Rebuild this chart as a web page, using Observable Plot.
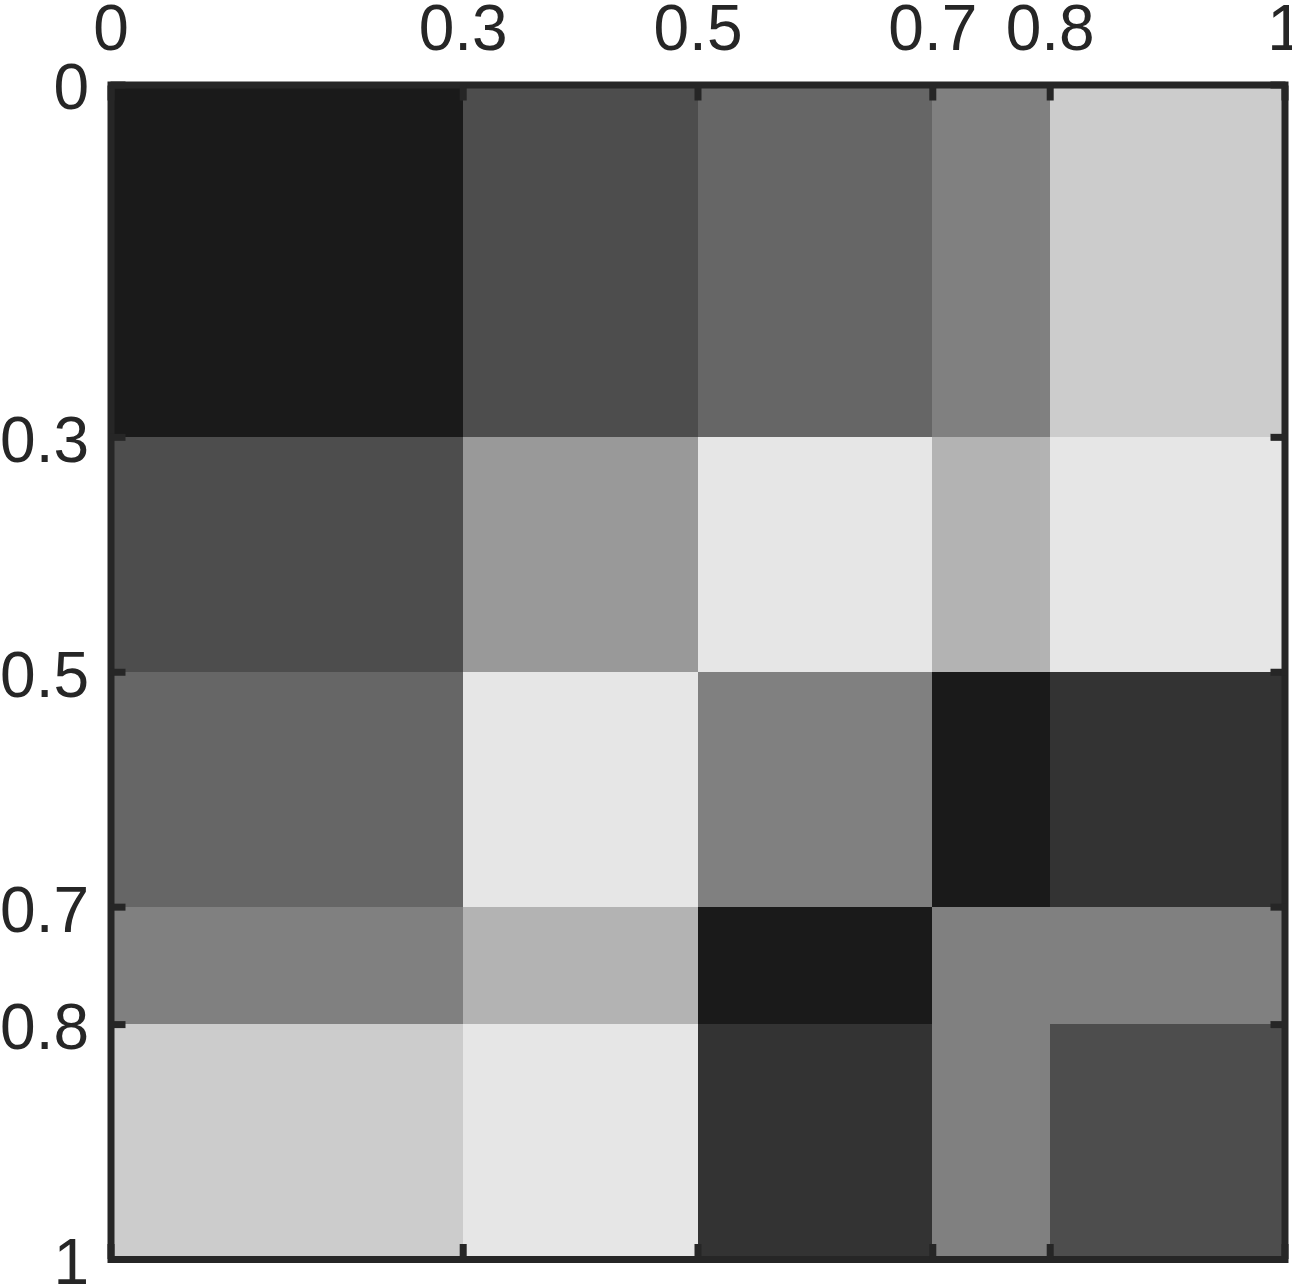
<!DOCTYPE html>
<html>
<head>
<meta charset="utf-8">
<script src="https://cdn.jsdelivr.net/npm/d3@7"></script>
<script src="https://cdn.jsdelivr.net/npm/@observablehq/plot@0.6"></script>
<style>
  html, body { margin: 0; padding: 0; background: #fff; }
  #chart svg { display: block; }
</style>
</head>
<body>
<div id="chart"></div>
<script>
// Cell edges along x and y (same partition on both axes)
const xEdges = [0, 0.3, 0.5, 0.7, 0.8, 1];
const yEdges = [0, 0.3, 0.5, 0.7, 0.8, 1];
// Tick positions
const xTicks = [0, 0.3, 0.5, 0.7, 0.8, 1];
const yTicks = [0, 0.3, 0.5, 0.7, 0.8, 1];
// Cell values, row by row (row 0 = top), mapped to a gray colormap
const row0 = [0.1, 0.3, 0.4, 0.5, 0.8];
const row1 = [0.3, 0.6, 0.9, 0.7, 0.9];
const row2 = [0.4, 0.9, 0.5, 0.1, 0.2];
const row3 = [0.5, 0.7, 0.1, 0.5, 0.5];
const row4 = [0.8, 0.9, 0.2, 0.5, 0.3];
const rows = [row0, row1, row2, row3, row4];

const cells = [];
rows.forEach((row, i) => row.forEach((v, j) => cells.push({
  x1: xEdges[j], x2: xEdges[j + 1], y1: yEdges[i], y2: yEdges[i + 1], value: v
})));

const ink = "#262626";
const fmt = d => String(d);

const chart = Plot.plot({
  width: 1292,
  height: 1286,
  marginLeft: 110.5,
  marginRight: 7.5,
  marginTop: 84.5,
  marginBottom: 27,
  style: {fontFamily: "'Liberation Sans', Arial, sans-serif", fontSize: "64px", color: ink, background: "#fff", overflow: "visible"},
  x: {domain: [0, 1], axis: null},
  y: {domain: [0, 1], reverse: true, axis: null},
  color: {type: "linear", domain: [0, 1], range: ["#000000", "#ffffff"], interpolate: "rgb"},
  marks: [
    Plot.rect(cells, {x1: "x1", x2: "x2", y1: "y1", y2: "y2", fill: "value", inset: 0, shapeRendering: "crispEdges"}),
    Plot.frame({stroke: ink, strokeWidth: 7}),
    // inward ticks on all four sides
    Plot.axisX({anchor: "top", ticks: xTicks, tickSize: -15, strokeWidth: 7, stroke: ink, tickFormat: () => "", label: null}),
    Plot.axisX({anchor: "bottom", ticks: xTicks, tickSize: -15, strokeWidth: 7, stroke: ink, tickFormat: () => "", label: null}),
    Plot.axisY({anchor: "left", ticks: yTicks, tickSize: -15, strokeWidth: 7, stroke: ink, tickFormat: () => "", label: null}),
    Plot.axisY({anchor: "right", ticks: yTicks, tickSize: -15, strokeWidth: 7, stroke: ink, tickFormat: () => "", label: null}),
    // tick labels
    Plot.axisX({anchor: "top", ticks: xTicks, tickSize: 0, tickPadding: 35, tickFormat: fmt, label: null, fill: ink, fontSize: 64}),
    Plot.axisY({anchor: "left", ticks: yTicks, tickSize: 0, tickPadding: 22, tickFormat: fmt, label: null, fill: ink, fontSize: 64, dy: 4})
  ]
});
document.getElementById("chart").appendChild(chart);
</script>
</body>
</html>
